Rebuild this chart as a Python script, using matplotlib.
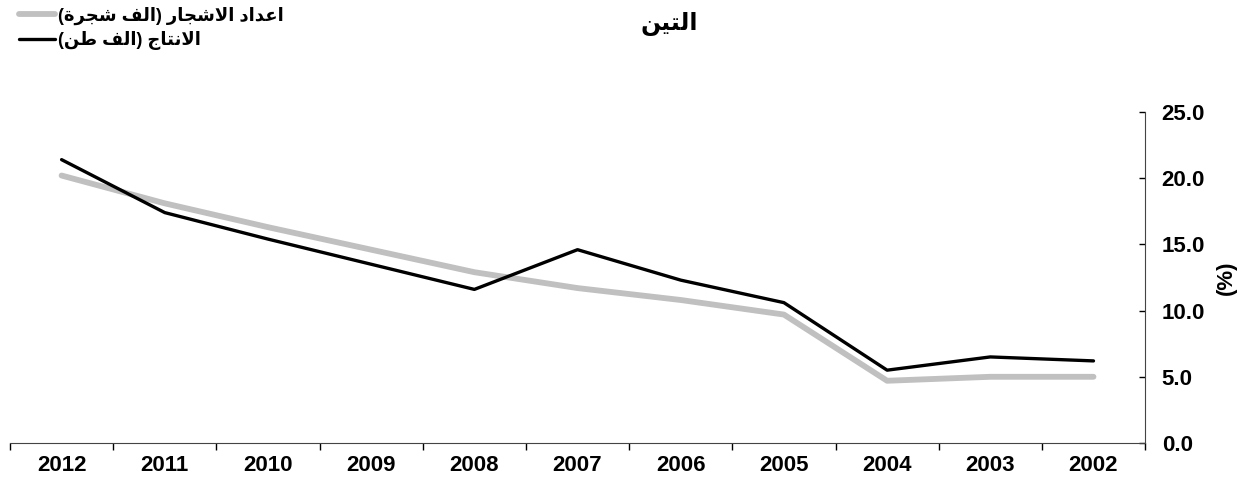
import matplotlib
matplotlib.use("Agg")
import matplotlib.pyplot as plt
import numpy as np

plt.rcParams['font.family'] = ['Liberation Sans', 'DejaVu Sans']
plt.rcParams['font.weight'] = 'bold'

# 数据
years = [2002, 2003, 2004, 2005, 2006, 2007, 2008, 2009, 2010, 2011, 2012]
trees = [5.0, 5.0, 4.7, 9.7, 10.8, 11.7, 12.9, 14.6, 16.3, 18.1, 20.2]
production = [6.2, 6.5, 5.5, 10.6, 12.3, 14.6, 11.6, 13.5, 15.4, 17.4, 21.4]

title_txt = "التين"
trees_label = "اعداد الاشجار (الف شجرة)"
prod_label = "الانتاج (الف طن)"
y_label = "(%)"

# 阿拉伯字母的连写形式: 独立, 词尾, 词首, 词中
FORMS = {
    'ا': ('\ufe8d', '\ufe8e', None, None),
    'ع': ('\ufec9', '\ufeca', '\ufecb', '\ufecc'),
    'د': ('\ufea9', '\ufeaa', None, None),
    'ل': ('\ufedd', '\ufede', '\ufedf', '\ufee0'),
    'ش': ('\ufeb5', '\ufeb6', '\ufeb7', '\ufeb8'),
    'ج': ('\ufe9d', '\ufe9e', '\ufe9f', '\ufea0'),
    'ر': ('\ufead', '\ufeae', None, None),
    'ف': ('\ufed1', '\ufed2', '\ufed3', '\ufed4'),
    'ة': ('\ufe93', '\ufe94', None, None),
    'ن': ('\ufee5', '\ufee6', '\ufee7', '\ufee8'),
    'ت': ('\ufe95', '\ufe96', '\ufe97', '\ufe98'),
    'ي': ('\ufef1', '\ufef2', '\ufef3', '\ufef4'),
    'ط': ('\ufec1', '\ufec2', '\ufec3', '\ufec4'),
    '\ufefb': ('\ufefb', '\ufefc', None, None),
}


def shape(text):
    """matplotlib 不做阿拉伯文连写和从右到左排版，这里手动处理"""
    s = text.replace('لا', '\ufefb')
    out = []
    for i, c in enumerate(s):
        if c not in FORMS:
            out.append(c)
            continue
        iso, fin, ini, med = FORMS[c]
        prev = s[i - 1] if i > 0 else ''
        nxt = s[i + 1] if i + 1 < len(s) else ''
        jp = prev in FORMS and FORMS[prev][2] is not None
        jn = ini is not None and nxt in FORMS
        if jp and jn:
            out.append(med)
        elif jp:
            out.append(fin)
        elif jn:
            out.append(ini)
        else:
            out.append(iso)
    vis = ''.join(out)[::-1]
    return vis.translate(str.maketrans({'(': ')', ')': '('}))


fig = plt.figure(figsize=(12.49, 4.92), dpi=100)
ax = fig.add_axes([0.008, 0.0996, 0.9088, 0.6728])

x = np.arange(len(years))
l1, = ax.plot(x, trees, color='#c0c0c0', lw=4.2, solid_capstyle='round')
l2, = ax.plot(x, production, color='black', lw=2.4, solid_capstyle='round')

ax.set_xlim(-0.5, len(years) - 0.5)
ax.invert_xaxis()
ax.set_ylim(0, 25)

ax.set_xticks(x)
ax.set_xticklabels([str(y) for y in years])
ax.set_xticks(np.arange(-0.5, len(years), 1.0), minor=True)
ax.tick_params(axis='x', which='major', length=0, pad=9, labelsize=16)
ax.tick_params(axis='x', which='minor', length=5, width=1, direction='out')

ax.yaxis.tick_right()
ax.yaxis.set_label_position('right')
ax.set_yticks(np.arange(0, 26, 5))
ax.set_yticklabels(["%.1f" % v for v in np.arange(0, 26, 5)])
ax.tick_params(axis='y', direction='in', length=4, width=1, pad=12, labelsize=16)
ax.set_ylabel(y_label, fontsize=16, fontweight='bold', labelpad=8)

for side in ['top', 'left']:
    ax.spines[side].set_visible(False)
ax.spines['bottom'].set_color('#444444')
ax.spines['right'].set_color('#444444')

fig.text(0.536, 0.952, shape(title_txt), ha='center', va='center',
         fontsize=17, fontweight='bold')

fig.legend([l1, l2], [shape(trees_label), shape(prod_label)],
           loc='upper left', bbox_to_anchor=(0.002, 1.02), frameon=False,
           handlelength=2.0, handletextpad=0.15, labelspacing=0.35,
           prop={'weight': 'bold', 'size': 13})

fig.savefig('out.png', dpi=100)
